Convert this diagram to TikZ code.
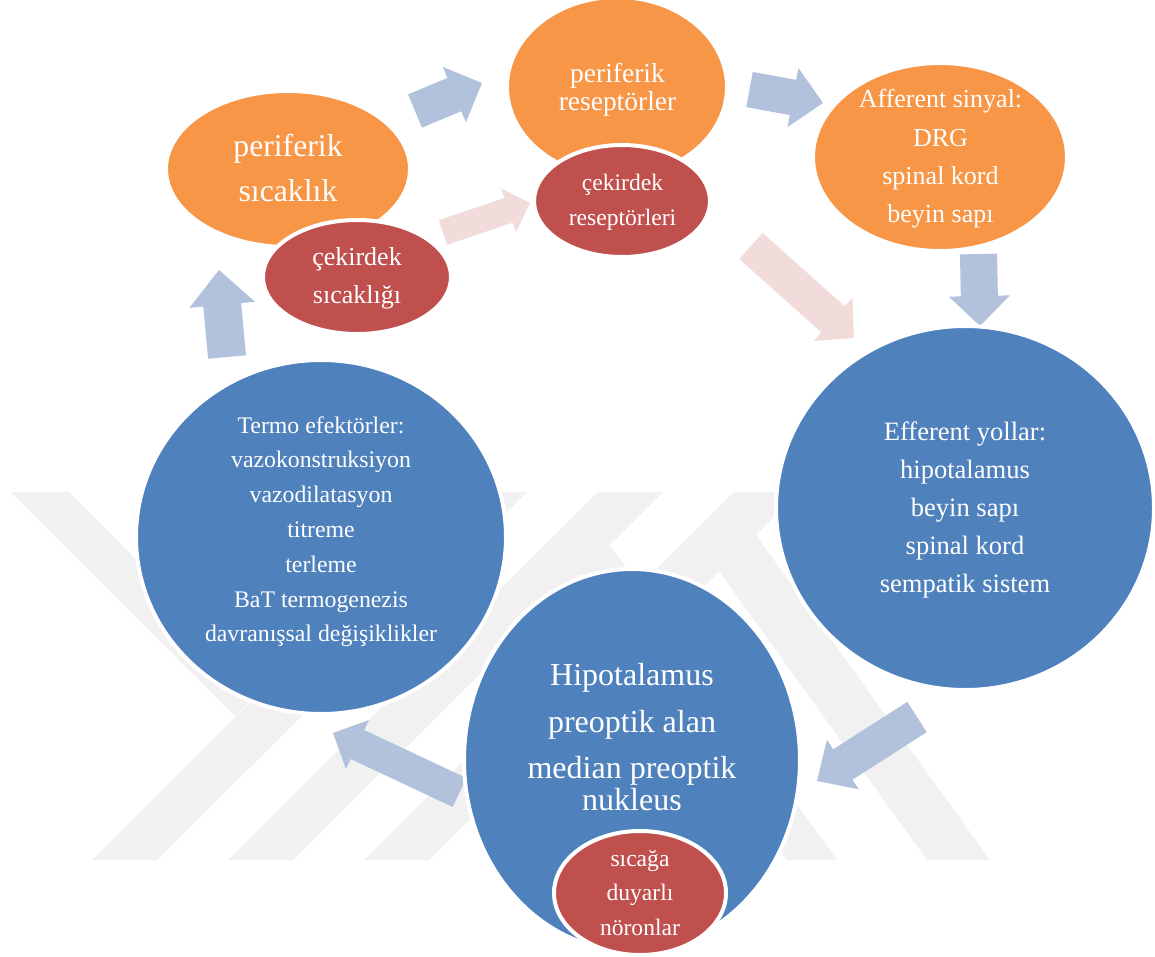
\documentclass[tikz,border=0pt]{standalone}
\usepackage{fontspec}
\setmainfont{Liberation Serif}
\usetikzlibrary{calc,shapes.geometric}
\definecolor{orng}{HTML}{F79646}
\definecolor{rd}{HTML}{C0504D}
\definecolor{blu}{HTML}{4F81BD}
\definecolor{arrblue}{HTML}{B2C1DC}
\definecolor{arrpink}{HTML}{F2DCDB}
\definecolor{wmark}{HTML}{F1F1F1}
% #1 style, #2 start, #3 end, #4 shaft half width, #5 head half width, #6 head length
\newcommand\blockarrow[6]{%
  \coordinate (hb) at ($(#3)!#6!(#2)$);
  \fill[#1] ($(#2)!#4!90:(#3)$) -- ($(hb)!#4!90:(#3)$) -- ($(hb)!#5!90:(#3)$) -- (#3)
    -- ($(hb)!#5!-90:(#3)$) -- ($(hb)!#4!-90:(#3)$) -- ($(#2)!#4!-90:(#3)$) -- cycle;
}
\tikzset{
  blob/.style={ellipse, draw=white, line width=3pt, inner sep=0pt, outer sep=0pt},
  lbl/.style={text=white, anchor=base, inner sep=0pt, outer sep=0pt},
  barrow/.style={arrblue},
  parrow/.style={arrpink},
  wm/.style={wmark}
}
\begin{document}
\begin{tikzpicture}[x=0.75pt, y=-0.75pt]
\useasboundingbox (0,0) rectangle (1155,956);
\fill[white] (0,0) rectangle (1155,956);

% faint watermark
\fill[wm] (11,492) -- (69,492) -- (264,688) -- (235,716) -- cycle;
\fill[wm] (92,860) -- (157,860) -- (527,492) -- (462,492) -- cycle;
\fill[wm] (228,860) -- (293,860) -- (663,492) -- (598,492) -- cycle;
\fill[wm] (364,860) -- (429,860) -- (799,492) -- (734,492) -- cycle;
\fill[wm] (609,544) -- (837,860) -- (787,860) -- (580,573) -- cycle;
\fill[wm] (755,534) -- (990,860) -- (927,860) -- (718.5,570.5) -- cycle;

% arrow end points
\coordinate (a1s) at (415,111);   \coordinate (a1e) at (482,83);
\coordinate (a2s) at (749.5,89.5); \coordinate (a2e) at (823,103);
\coordinate (a3s) at (443,232.5); \coordinate (a3e) at (530,203);
\coordinate (a4s) at (751,246);   \coordinate (a4e) at (854,338);
\coordinate (a5s) at (978.5,254); \coordinate (a5e) at (980,326);
\coordinate (a6s) at (917,717);   \coordinate (a6e) at (817,781);
\coordinate (a7s) at (459.5,792.5); \coordinate (a7e) at (333,733);
\coordinate (a8s) at (227,357);   \coordinate (a8e) at (219,270);

\blockarrow{barrow}{a1s}{a1e}{13.5pt}{22.5pt}{22.5pt}
\blockarrow{barrow}{a2s}{a2e}{13.4pt}{22.5pt}{22.9pt}
\blockarrow{parrow}{a3s}{a3e}{9.75pt}{17.25pt}{16.9pt}
\blockarrow{parrow}{a4s}{a4e}{13.1pt}{21.75pt}{21pt}
\blockarrow{barrow}{a5s}{a5e}{13.9pt}{22.9pt}{22.5pt}
\blockarrow{barrow}{a6s}{a6e}{13.5pt}{22.1pt}{23pt}
\blockarrow{barrow}{a7s}{a7e}{12pt}{20.25pt}{20.25pt}
\blockarrow{barrow}{a8s}{a8e}{14.25pt}{24.75pt}{26.25pt}

% shapes
\node[blob, fill=orng, minimum width=183pt, minimum height=117pt] (psic) at (288,169) {};
\node[blob, fill=orng, minimum width=165pt, minimum height=135pt] (prec) at (617,87) {};
\node[blob, fill=orng, minimum width=190.5pt, minimum height=141pt] (aff) at (940,157) {};
\node[blob, fill=rd, minimum width=141pt, minimum height=85.5pt] (csic) at (357,277) {};
\node[blob, fill=rd, minimum width=132pt, minimum height=84pt] (crec) at (622,201) {};
\node[blob, fill=blu, minimum width=283.5pt, minimum height=273pt] (eff) at (965,508) {};
\node[blob, fill=blu, minimum width=277.5pt, minimum height=265.5pt] (termo) at (321,537) {};
\node[blob, fill=blu, minimum width=252pt, minimum height=286.5pt] (hipo) at (632,760) {};
\node[blob, fill=rd, minimum width=129pt, minimum height=93pt] (noron) at (640,893) {};

% texts
\foreach \t [count=\i] in {periferik, sıcaklık}
  \node[lbl, font=\fontsize{23.8pt}{23.8pt}\selectfont] (t1-\i) at (288,{156+45*(\i-1)}) {\t};
\foreach \t [count=\i] in {çekirdek, sıcaklığı}
  \node[lbl, font=\fontsize{19.5pt}{19.5pt}\selectfont] (t2-\i) at (357,{265+38*(\i-1)}) {\t};
\foreach \t [count=\i] in {periferik, reseptörler}
  \node[lbl, font=\fontsize{20.6pt}{20.6pt}\selectfont] (t3-\i) at (617.5,{83+27*(\i-1)}) {\t};
\foreach \t [count=\i] in {çekirdek, reseptörleri}
  \node[lbl, font=\fontsize{17.7pt}{17.7pt}\selectfont] (t4-\i) at (622.5,{190+35*(\i-1)}) {\t};
\foreach \t [count=\i] in {Afferent sinyal:, DRG, spinal kord, beyin sapı}
  \node[lbl, font=\fontsize{19.5pt}{19.5pt}\selectfont] (t5-\i) at (940.5,{108+38*(\i-1)}) {\t};
\foreach \t [count=\i] in {Efferent yollar:, hipotalamus, beyin sapı, spinal kord, sempatik sistem}
  \node[lbl, font=\fontsize{19.9pt}{19.9pt}\selectfont] (t6-\i) at (965,{440+38.2*(\i-1)}) {\t};
\foreach \t [count=\i] in {Termo efektörler:, vazokonstruksiyon, vazodilatasyon, titreme, terleme, BaT termogenezis, davranışsal değişiklikler}
  \node[lbl, font=\fontsize{17.85pt}{17.85pt}\selectfont] (t7-\i) at (321,{433+34.8*(\i-1)}) {\t};
\node[lbl, font=\fontsize{24pt}{24pt}\selectfont] (t8-1) at (632,685) {Hipotalamus};
\node[lbl, font=\fontsize{24pt}{24pt}\selectfont] (t8-2) at (632,732) {preoptik alan};
\node[lbl, font=\fontsize{24pt}{24pt}\selectfont] (t8-3) at (632,778) {median preoptik};
\node[lbl, font=\fontsize{24pt}{24pt}\selectfont] (t8-4) at (632,810) {nukleus};
\foreach \t [count=\i] in {sıcağa, duyarlı, nöronlar}
  \node[lbl, font=\fontsize{17.7pt}{17.7pt}\selectfont] (t9-\i) at (640,{866+34.5*(\i-1)}) {\t};
\end{tikzpicture}
\end{document}
